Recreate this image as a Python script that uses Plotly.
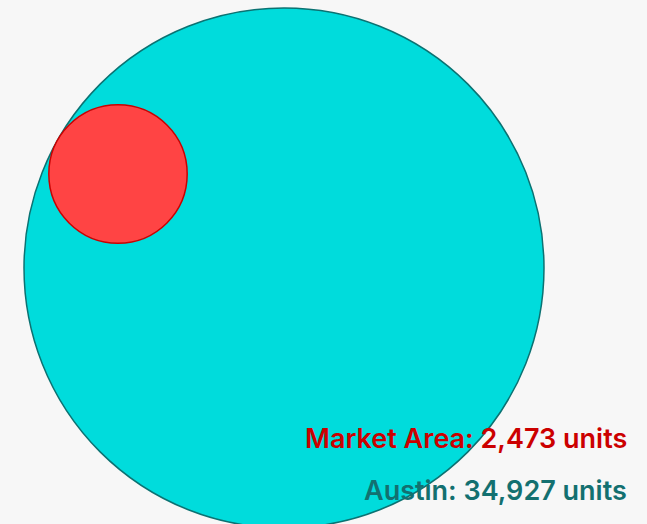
import math
import plotly.graph_objects as go

# units per area
labels = ["Austin", "Market Area"]
units = [34927, 2473]
fills = ["#00dcdc", "#ff4444"]
outlines = ["#0b7272", "#cc0000"]
text_colors = ["#137070", "#cc0000"]

# circle radius proportional to sqrt(units); Austin circle ~260px
scale = 260 / math.sqrt(units[0])
radii = [math.sqrt(u) * scale for u in units]
centers = [(284, 268), (118, 174)]

fig = go.Figure()
fig.add_trace(go.Scatter(x=[0, 647], y=[0, 524], mode="markers", marker=dict(opacity=0), hoverinfo="skip", showlegend=False))

for (cx, cy), r, f, o in zip(centers, radii, fills, outlines):
    fig.add_shape(type="circle", xref="x", yref="y",
                  x0=cx - r, x1=cx + r, y0=cy - r, y1=cy + r,
                  fillcolor=f, line=dict(color=o, width=1.5), layer="above")

ypos = [490, 438]
for lab, u, c, y in zip(labels, units, text_colors, ypos):
    fig.add_annotation(x=629, y=y, xref="x", yref="y", xanchor="right", yanchor="middle",
                       text=f"{lab}: {u:,} units", showarrow=False,
                       font=dict(family="Inter", size=27, color=c, weight=600))

fig.update_xaxes(range=[0, 647], visible=False, fixedrange=True)
fig.update_yaxes(range=[524, 0], visible=False, fixedrange=True)
fig.update_layout(width=647, height=524, margin=dict(l=0, r=0, t=0, b=0),
                  paper_bgcolor="#f7f7f7", plot_bgcolor="#f7f7f7", showlegend=False)

fig.write_html("out.html", config={"displayModeBar": False},
               post_script="document.body.style.margin='0';document.body.style.background='#f7f7f7';")
